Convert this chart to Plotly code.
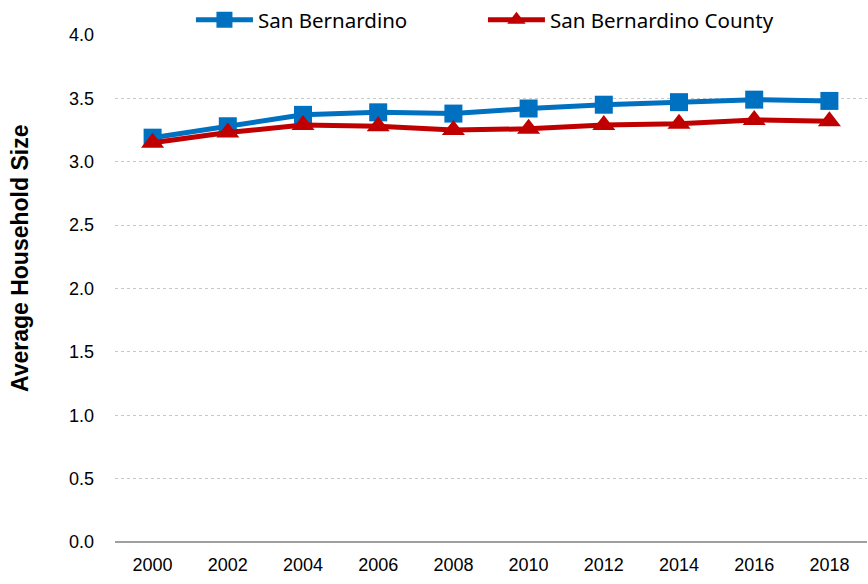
import plotly.graph_objects as go

years = ["2000", "2002", "2004", "2006", "2008", "2010", "2012", "2014", "2016", "2018"]
city = [3.19, 3.28, 3.37, 3.39, 3.38, 3.42, 3.45, 3.47, 3.49, 3.48]
county = [3.15, 3.23, 3.29, 3.28, 3.25, 3.26, 3.29, 3.30, 3.33, 3.32]
y_ticks = [0.0, 0.5, 1.0, 1.5, 2.0, 2.5, 3.0, 3.5, 4.0]

fig = go.Figure()
fig.add_trace(go.Scatter(
    x=years, y=city, name="San Bernardino", mode="lines+markers",
    line=dict(color="#0070C0", width=5),
    marker=dict(symbol="square", size=18, color="#0070C0"),
))
fig.add_trace(go.Scatter(
    x=years, y=county, name="San Bernardino County", mode="lines+markers",
    line=dict(color="#C00000", width=5),
    marker=dict(symbol="triangle-up", size=20, color="#C00000"),
))

fig.add_annotation(
    text="<b>Average Household Size</b>", textangle=-90,
    xref="paper", yref="paper", x=-0.1263, y=0.56,
    xanchor="center", yanchor="middle", showarrow=False,
    font=dict(size=23),
)

fig.update_layout(
    width=868, height=584,
    margin=dict(l=115, r=1, t=35, b=42, autoexpand=False),
    plot_bgcolor="white", paper_bgcolor="white",
    font=dict(family="Liberation Sans, Arial", size=18, color="#000000"),
    showlegend=True,
    legend=dict(orientation="h", x=0.101, xanchor="left",
                yref="container", y=0.966, yanchor="middle",
                font=dict(family="Noto Sans", size=20.5), itemwidth=57,
                entrywidth=220, entrywidthmode="pixels",
                bgcolor="rgba(0,0,0,0)"),
    xaxis=dict(type="category", range=[-0.5, 9.5], showgrid=False, showline=False, ticks="",
               ticklabelstandoff=10, tickfont=dict(size=18), automargin=False),
    yaxis=dict(range=[0, 4], tickvals=y_ticks, tickformat=".1f",
               showgrid=True, gridcolor="#C8C8C8", griddash="dot", gridwidth=1,
               zeroline=True, zerolinecolor="#A0A0A0", zerolinewidth=2,
               showline=False, ticks="", ticklabelstandoff=20, automargin=False),
)

fig.write_html("out.html", config={"displayModeBar": False},
               post_script="document.body.style.margin='0';")
